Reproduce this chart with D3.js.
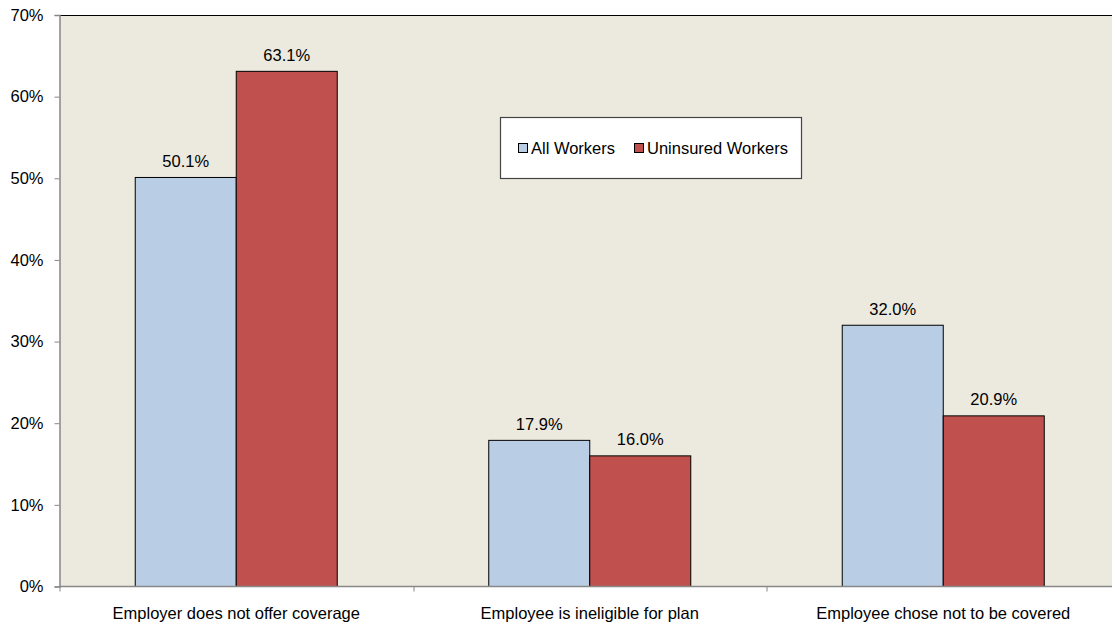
<!DOCTYPE html>
<html>
<head>
<meta charset="utf-8">
<script src="https://cdn.jsdelivr.net/npm/d3@7"></script>
<style>
  html, body { margin: 0; padding: 0; background: #ffffff; overflow: hidden; }
  svg { display: block; font-family: "Liberation Sans", Arial, sans-serif; }
</style>
</head>
<body>
<svg id="chart" width="1112" height="626"></svg>
<script>
// Reasons workers lack employer coverage, share of workers
const categories = ["Employer does not offer coverage", "Employee is ineligible for plan", "Employee chose not to be covered"];
const seriesNames = ["All Workers", "Uninsured Workers"];
const allWorkers = [50.1, 17.9, 32.0];
const uninsuredWorkers = [63.1, 16.0, 20.9];
const yTicks = [0, 10, 20, 30, 40, 50, 60, 70];
const colors = ["#b9cde5", "#c0504d"];

const FONT = 16.5;
const svg = d3.select("#chart");
const margin = { top: 15, left: 59.5 };
const plotW = 1060.5;           // plot area runs slightly past the right edge
const plotH = 586.5 - margin.top;

const g = svg.append("g").attr("transform", `translate(${margin.left},${margin.top})`);

const x0 = d3.scaleBand().domain(categories).range([0, plotW]).paddingInner(0).paddingOuter(0);
const x1 = d3.scaleBand().domain(seriesNames).range([0, x0.bandwidth()]).paddingInner(0).paddingOuter(0.75);
const y = d3.scaleLinear().domain([0, 70]).range([plotH, 0]);

// plot background
g.append("rect").attr("x", 0).attr("y", 0).attr("width", plotW).attr("height", plotH).attr("fill", "#ece9df");

// top border
g.append("line").attr("x1", 0).attr("x2", plotW).attr("y1", 0.5).attr("y2", 0.5)
  .attr("stroke", "#000").attr("stroke-width", 1.2);

const data = categories.map((c, i) => ({ cat: c, values: [
  { name: seriesNames[0], v: allWorkers[i] },
  { name: seriesNames[1], v: uninsuredWorkers[i] }
]}));

const groups = g.selectAll("g.cat").data(data).enter().append("g")
  .attr("transform", d => `translate(${x0(d.cat)},0)`);

groups.selectAll("rect").data(d => d.values).enter().append("rect")
  .attr("x", d => x1(d.name))
  .attr("y", d => y(d.v))
  .attr("width", x1.bandwidth())
  .attr("height", d => plotH - y(d.v))
  .attr("fill", (d, i) => colors[i])
  .attr("stroke", "#000").attr("stroke-width", 1);

groups.selectAll("text.val").data(d => d.values).enter().append("text")
  .attr("class", "val")
  .attr("x", d => x1(d.name) + x1.bandwidth() / 2)
  .attr("y", d => y(d.v) - 10.5)
  .attr("text-anchor", "middle")
  .attr("font-size", FONT).attr("fill", "#000")
  .text(d => d.v.toFixed(1) + "%");

// y axis
const yAxis = g.append("g").call(d3.axisLeft(y).tickValues(yTicks).tickFormat(d => d + "%").tickSize(5).tickPadding(11));
yAxis.select(".domain").attr("stroke", "#888").attr("stroke-width", 1.5);
yAxis.selectAll(".tick line").attr("stroke", "#888");
yAxis.selectAll(".tick text").attr("font-size", FONT).attr("fill", "#000")
  .attr("font-family", "'Liberation Sans', Arial, sans-serif");

// x axis with ticks at category boundaries
const xAxisG = g.append("g").attr("transform", `translate(0,${plotH})`);
xAxisG.append("line").attr("x1", 0).attr("x2", plotW).attr("y1", 0).attr("y2", 0)
  .attr("stroke", "#888").attr("stroke-width", 1.5);
const bounds = categories.map(c => x0(c)).concat([x0.range()[1]]);
xAxisG.selectAll("line.tk").data(bounds).enter().append("line").attr("class", "tk")
  .attr("x1", d => Math.round(d) + 0.5).attr("x2", d => Math.round(d) + 0.5)
  .attr("y1", 0).attr("y2", 5).attr("stroke", "#888");
xAxisG.selectAll("text").data(categories).enter().append("text")
  .attr("x", d => x0(d) + x0.bandwidth() / 2)
  .attr("y", 32)
  .attr("text-anchor", "middle")
  .attr("font-size", FONT).attr("fill", "#000")
  .text(d => d);

// legend
const lg = svg.append("g").attr("transform", "translate(500.5,117.5)");
lg.append("rect").attr("width", 301).attr("height", 61).attr("fill", "#fff")
  .attr("stroke", "#444").attr("stroke-width", 1.2);
const legendItems = [
  { name: seriesNames[0], x: 18 },
  { name: seriesNames[1], x: 134 }
];
legendItems.forEach((d, i) => {
  lg.append("rect").attr("x", d.x).attr("y", 26).attr("width", 9).attr("height", 9)
    .attr("fill", colors[i]).attr("stroke", "#000").attr("stroke-width", 1);
  lg.append("text").attr("x", d.x + 12.5).attr("y", 36).attr("font-size", FONT).attr("fill", "#000").text(d.name);
});
</script>
</body>
</html>
